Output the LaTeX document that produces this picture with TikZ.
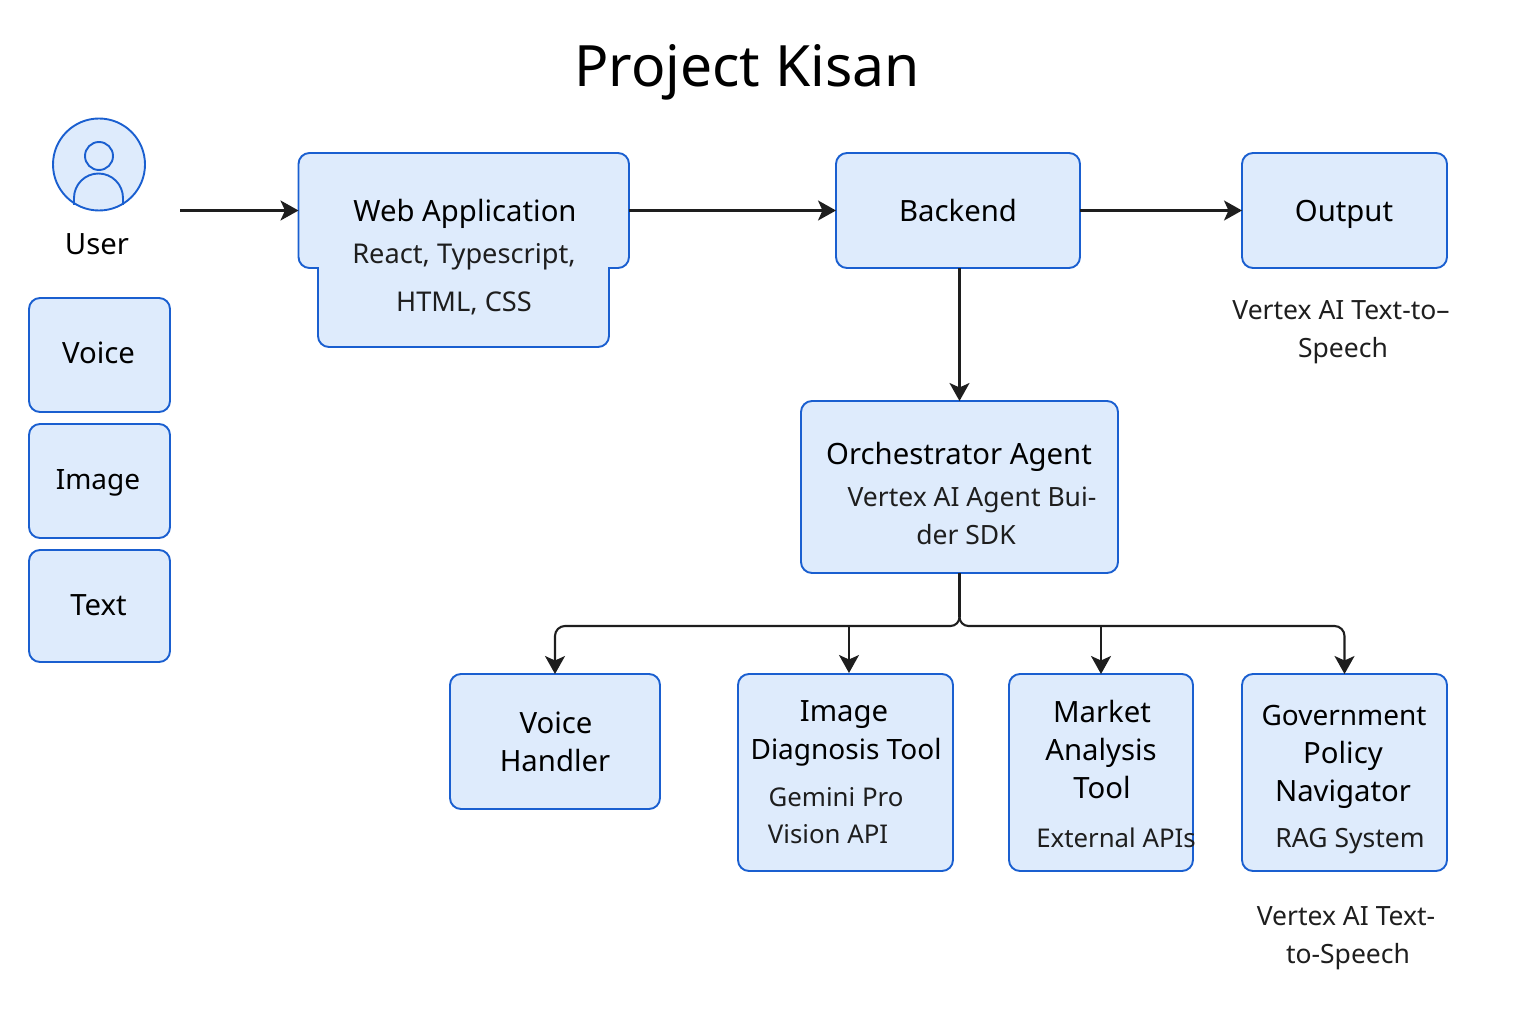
\documentclass[tikz,border=0pt]{standalone}
\usepackage{fontspec}
\setmainfont{Noto Sans}
\usetikzlibrary{arrows.meta,calc}
\definecolor{boxfill}{HTML}{DEEBFC}
\definecolor{boxline}{HTML}{1A5FD0}
\definecolor{ink}{HTML}{1E1E1E}
\newcommand{\bigtxt}{\fontsize{29.3}{36}\selectfont}
\newcommand{\bigtight}{\fontsize{28}{36}\selectfont}
\newcommand{\subtxt}{\fontsize{26.5}{33}\selectfont}
\newcommand{\subtight}{\fontsize{25.8}{33}\selectfont}
\newcommand{\subwide}{\fontsize{27.2}{33}\selectfont}
\tikzset{
  box/.style={draw=boxline,fill=boxfill,line width=1.9pt,rounded corners=11pt,inner sep=0pt,outer sep=0pt},
  hidden/.style={inner sep=0pt,outer sep=0pt},
  lab/.style={inner sep=0pt,text=black,font=\bigtxt,text height=21pt,text depth=0pt},
  sub/.style={inner sep=0pt,text=ink,font=\subtxt,text height=19pt,text depth=0pt},
  link/.style={draw=ink,line width=2.1pt,-{Stealth[length=18pt,width=20pt,inset=4.5pt]}},
  trunk/.style={draw=ink,line width=2.1pt},
}
\begin{document}
\begin{tikzpicture}[x=1pt,y=-1pt]
\useasboundingbox (0,0) rectangle (1536,1024);
\node[lab,font=\fontsize{57}{64}\selectfont,text height=41pt] (title) at (747,66) {Project Kisan};
% user
\node[draw=boxline,fill=boxfill,line width=1.9pt,circle,minimum size=92pt,inner sep=0pt,outer sep=0pt] (usericon) at (99,164.5) {};
\node[draw=boxline,line width=1.9pt,circle,minimum size=28pt,inner sep=0pt] (userhead) at (99,156) {};
\draw[boxline,line width=1.9pt] (74,205) -- (74,198) arc[start angle=180,end angle=0,radius=24.5pt] -- (123,205);
\node[lab] (user) at (97,244) {User};
\coordinate (userout) at (180,210.5);
% web application
\draw[draw=boxline,fill=boxfill,line width=1.9pt]
  (309.5,153) -- (618,153) arc[start angle=90,end angle=0,radius=11pt] -- (629,257)
  arc[start angle=0,end angle=-90,radius=11pt] -- (609,268) -- (609,336)
  arc[start angle=0,end angle=-90,radius=11pt] -- (329,347)
  arc[start angle=270,end angle=180,radius=11pt] -- (318,268) -- (309.5,268)
  arc[start angle=270,end angle=180,radius=11pt] -- (298.5,164)
  arc[start angle=180,end angle=90,radius=11pt] -- cycle;
\node[hidden,minimum width=330.5pt,minimum height=115pt] (web) at (463.75,210.5) {};
\node[lab] (webt) at (465,211) {Web Application};
\node[sub,font=\subwide] (webs) at (464,254) {React, Typescript,};
\node[sub,font=\subwide] (webh) at (464,302) {HTML, CSS};
% boxes
\node[box,minimum width=244pt,minimum height=115pt] (backend) at (958,210.5) {};
\node[lab] at (958,211) {Backend};
\node[box,minimum width=205pt,minimum height=115pt] (output) at (1344.5,210.5) {};
\node[lab] at (1344,211) {Output};
\node[sub] at (1341,310) {Vertex AI Text-to–};
\node[sub] at (1343,348) {Speech};
\node[box,minimum width=141pt,minimum height=114pt] (voice) at (99.5,355) {};
\node[lab] at (98.5,353) {Voice};
\node[box,minimum width=141pt,minimum height=114pt] (image) at (99.5,481) {};
\node[lab,font=\bigtight] at (98,479) {Image};
\node[box,minimum width=141pt,minimum height=112pt] (textb) at (99.5,606) {};
\node[lab] at (98.5,605) {Text};
\node[box,minimum width=317pt,minimum height=172pt] (orch) at (959.5,487) {};
\node[lab] at (959,454) {Orchestrator Agent};
\node[sub] at (972,497) {Vertex AI Agent Bui-};
\node[sub] at (966,535) {der SDK};
\node[box,minimum width=210pt,minimum height=135pt] (vh) at (555,741.5) {};
\node[lab] at (556,723) {Voice};
\node[lab] at (555,761) {Handler};
\node[box,minimum width=215pt,minimum height=197pt] (img) at (845.5,772.5) {};
\node[lab] at (844,711) {Image};
\node[lab,font=\bigtight] at (846,749) {Diagnosis Tool};
\node[sub,font=\subtight] at (836,797) {Gemini Pro};
\node[sub,font=\subtight] at (828,834) {Vision API};
\node[box,minimum width=184pt,minimum height=197pt] (market) at (1101,772.5) {};
\node[lab] at (1102,712) {Market};
\node[lab] at (1101,750) {Analysis};
\node[lab] at (1102,788) {Tool};
\node[sub,font=\subtight] at (1116,838) {External APIs};
\node[box,minimum width=205pt,minimum height=197pt] (gov) at (1344.5,772.5) {};
\node[lab,font=\bigtight] at (1344,715) {Government};
\node[lab] at (1343,753) {Policy};
\node[lab] at (1343,791) {Navigator};
\node[sub] at (1350,838) {RAG System};
\node[sub] at (1346,916) {Vertex AI Text-};
\node[sub] at (1348,954) {to-Speech};
% connectors
\draw[link] (userout) -- (web.west);
\draw[link] (web.east) -- (backend.west);
\draw[link] (backend.east) -- (output.west);
\draw[link] (orch.north |- backend.south) -- (orch.north);
\coordinate (bus) at ($(orch.south)+(0,53)$);
\draw[trunk] (orch.south) -- ($(bus)+(0,-9)$);
\draw[link] ($(bus)+(0,-9)$) arc[start angle=0,end angle=-90,radius=9pt] -- ($(bus -| vh.north)+(10,0)$) arc[start angle=90,end angle=180,radius=10pt] -- (vh.north);
\draw[link] ($(bus)+(0,-9)$) arc[start angle=180,end angle=270,radius=9pt] -- ($(bus -| gov.north)+(-10,0)$) arc[start angle=90,end angle=0,radius=10pt] -- (gov.north);
\draw[link] ($(bus -| img.north)+(3.5,0)$) -- ($(img.north)+(3.5,-1)$);
\draw[link] (bus -| market.north) -- (market.north);
\end{tikzpicture}
\end{document}
